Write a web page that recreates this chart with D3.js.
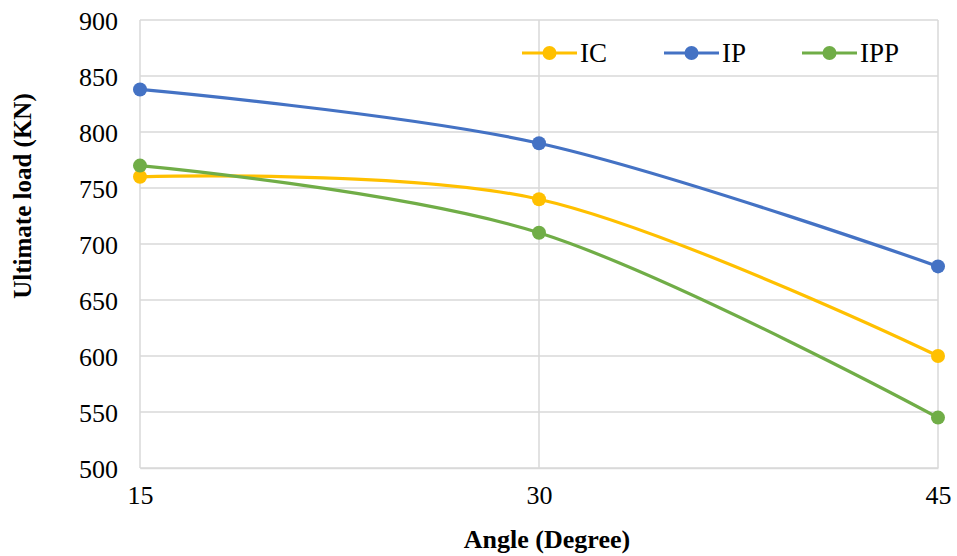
<!DOCTYPE html>
<html>
<head>
<meta charset="utf-8">
<script src="https://cdn.jsdelivr.net/npm/d3@7"></script>
<style>
body{margin:0;background:#fff;}
text{font-family:"Liberation Serif","Times New Roman",serif;fill:#000;}
</style>
</head>
<body>
<svg id="chart" width="957" height="556"></svg>
<script>
// chart data
var angles = [15, 30, 45];
var seriesNames = ["IC", "IP", "IPP"];
var icLoad = [760, 740, 600];
var ipLoad = [838, 790, 680];
var ippLoad = [770, 710, 545];
var yTicks = [500, 550, 600, 650, 700, 750, 800, 850, 900];
var colors = ["#FFC000", "#4472C4", "#70AD47"];

var svg = d3.select("#chart");
var plotLeft = 140, plotRight = 938, plotTop = 20, plotBottom = 468;

var x = d3.scaleLinear().domain([15, 45]).range([plotLeft, plotRight]);
var y = d3.scaleLinear().domain([500, 900]).range([plotBottom, plotTop]);

var grid = svg.append("g");
grid.selectAll(".hg").data(yTicks).enter().append("line")
	.attr("x1", plotLeft).attr("x2", plotRight)
	.attr("y1", function(d){ return y(d); }).attr("y2", function(d){ return y(d); })
	.attr("stroke", "#d9d9d9").attr("stroke-width", 1.5);
grid.selectAll(".vg").data(angles).enter().append("line")
	.attr("x1", function(d){ return x(d); }).attr("x2", function(d){ return x(d); })
	.attr("y1", plotTop).attr("y2", plotBottom)
	.attr("stroke", "#d9d9d9").attr("stroke-width", 1.5);

// axes, text only
var yAxis = svg.append("g").attr("transform", "translate(" + plotLeft + ",0)")
	.call(d3.axisLeft(y).tickValues(yTicks).tickSize(0).tickPadding(22));
yAxis.select(".domain").remove();
yAxis.selectAll("text").attr("font-size", 26).attr("font-family", "Liberation Serif").attr("dy", "0.35em");

var xAxis = svg.append("g").attr("transform", "translate(0," + plotBottom + ")")
	.call(d3.axisBottom(x).tickValues(angles).tickSize(0).tickPadding(18));
xAxis.select(".domain").attr("stroke", "#d9d9d9").attr("stroke-width", 1.5);
xAxis.selectAll("text").attr("font-size", 26).attr("font-family", "Liberation Serif");

svg.append("text").attr("x", 547).attr("y", 548).attr("text-anchor", "middle")
	.attr("font-size", 26).attr("font-weight", "bold").text("Angle (Degree)");
svg.append("text").attr("transform", "translate(31,196) rotate(-90)").attr("text-anchor", "middle")
	.attr("font-size", 25).attr("font-weight", "bold").text("Ultimate load (KN)");

var allSeries = [icLoad, ipLoad, ippLoad];
var line = d3.line()
	.x(function(d, i){ return x(angles[i]); })
	.y(function(d){ return y(d); })
	.curve(d3.curveCardinal.tension(0));

allSeries.forEach(function(vals, s){
	svg.append("path").attr("d", line(vals)).attr("fill", "none")
		.attr("stroke", colors[s]).attr("stroke-width", 3.2);
	svg.selectAll(".pt" + s).data(vals).enter().append("circle")
		.attr("cx", function(d, i){ return x(angles[i]); })
		.attr("cy", function(d){ return y(d); })
		.attr("r", 7).attr("fill", colors[s]);
});

// legend
var legX = [522, 664, 802];
seriesNames.forEach(function(name, s){
	var g = svg.append("g").attr("transform", "translate(" + legX[s] + ",53)");
	g.append("line").attr("x1", 0).attr("x2", 55).attr("stroke", colors[s]).attr("stroke-width", 3.2);
	g.append("circle").attr("cx", 27.5).attr("r", 7).attr("fill", colors[s]);
	g.append("text").attr("x", 58).attr("dy", "0.35em").attr("font-size", 27).text(name);
});
</script>
</body>
</html>
